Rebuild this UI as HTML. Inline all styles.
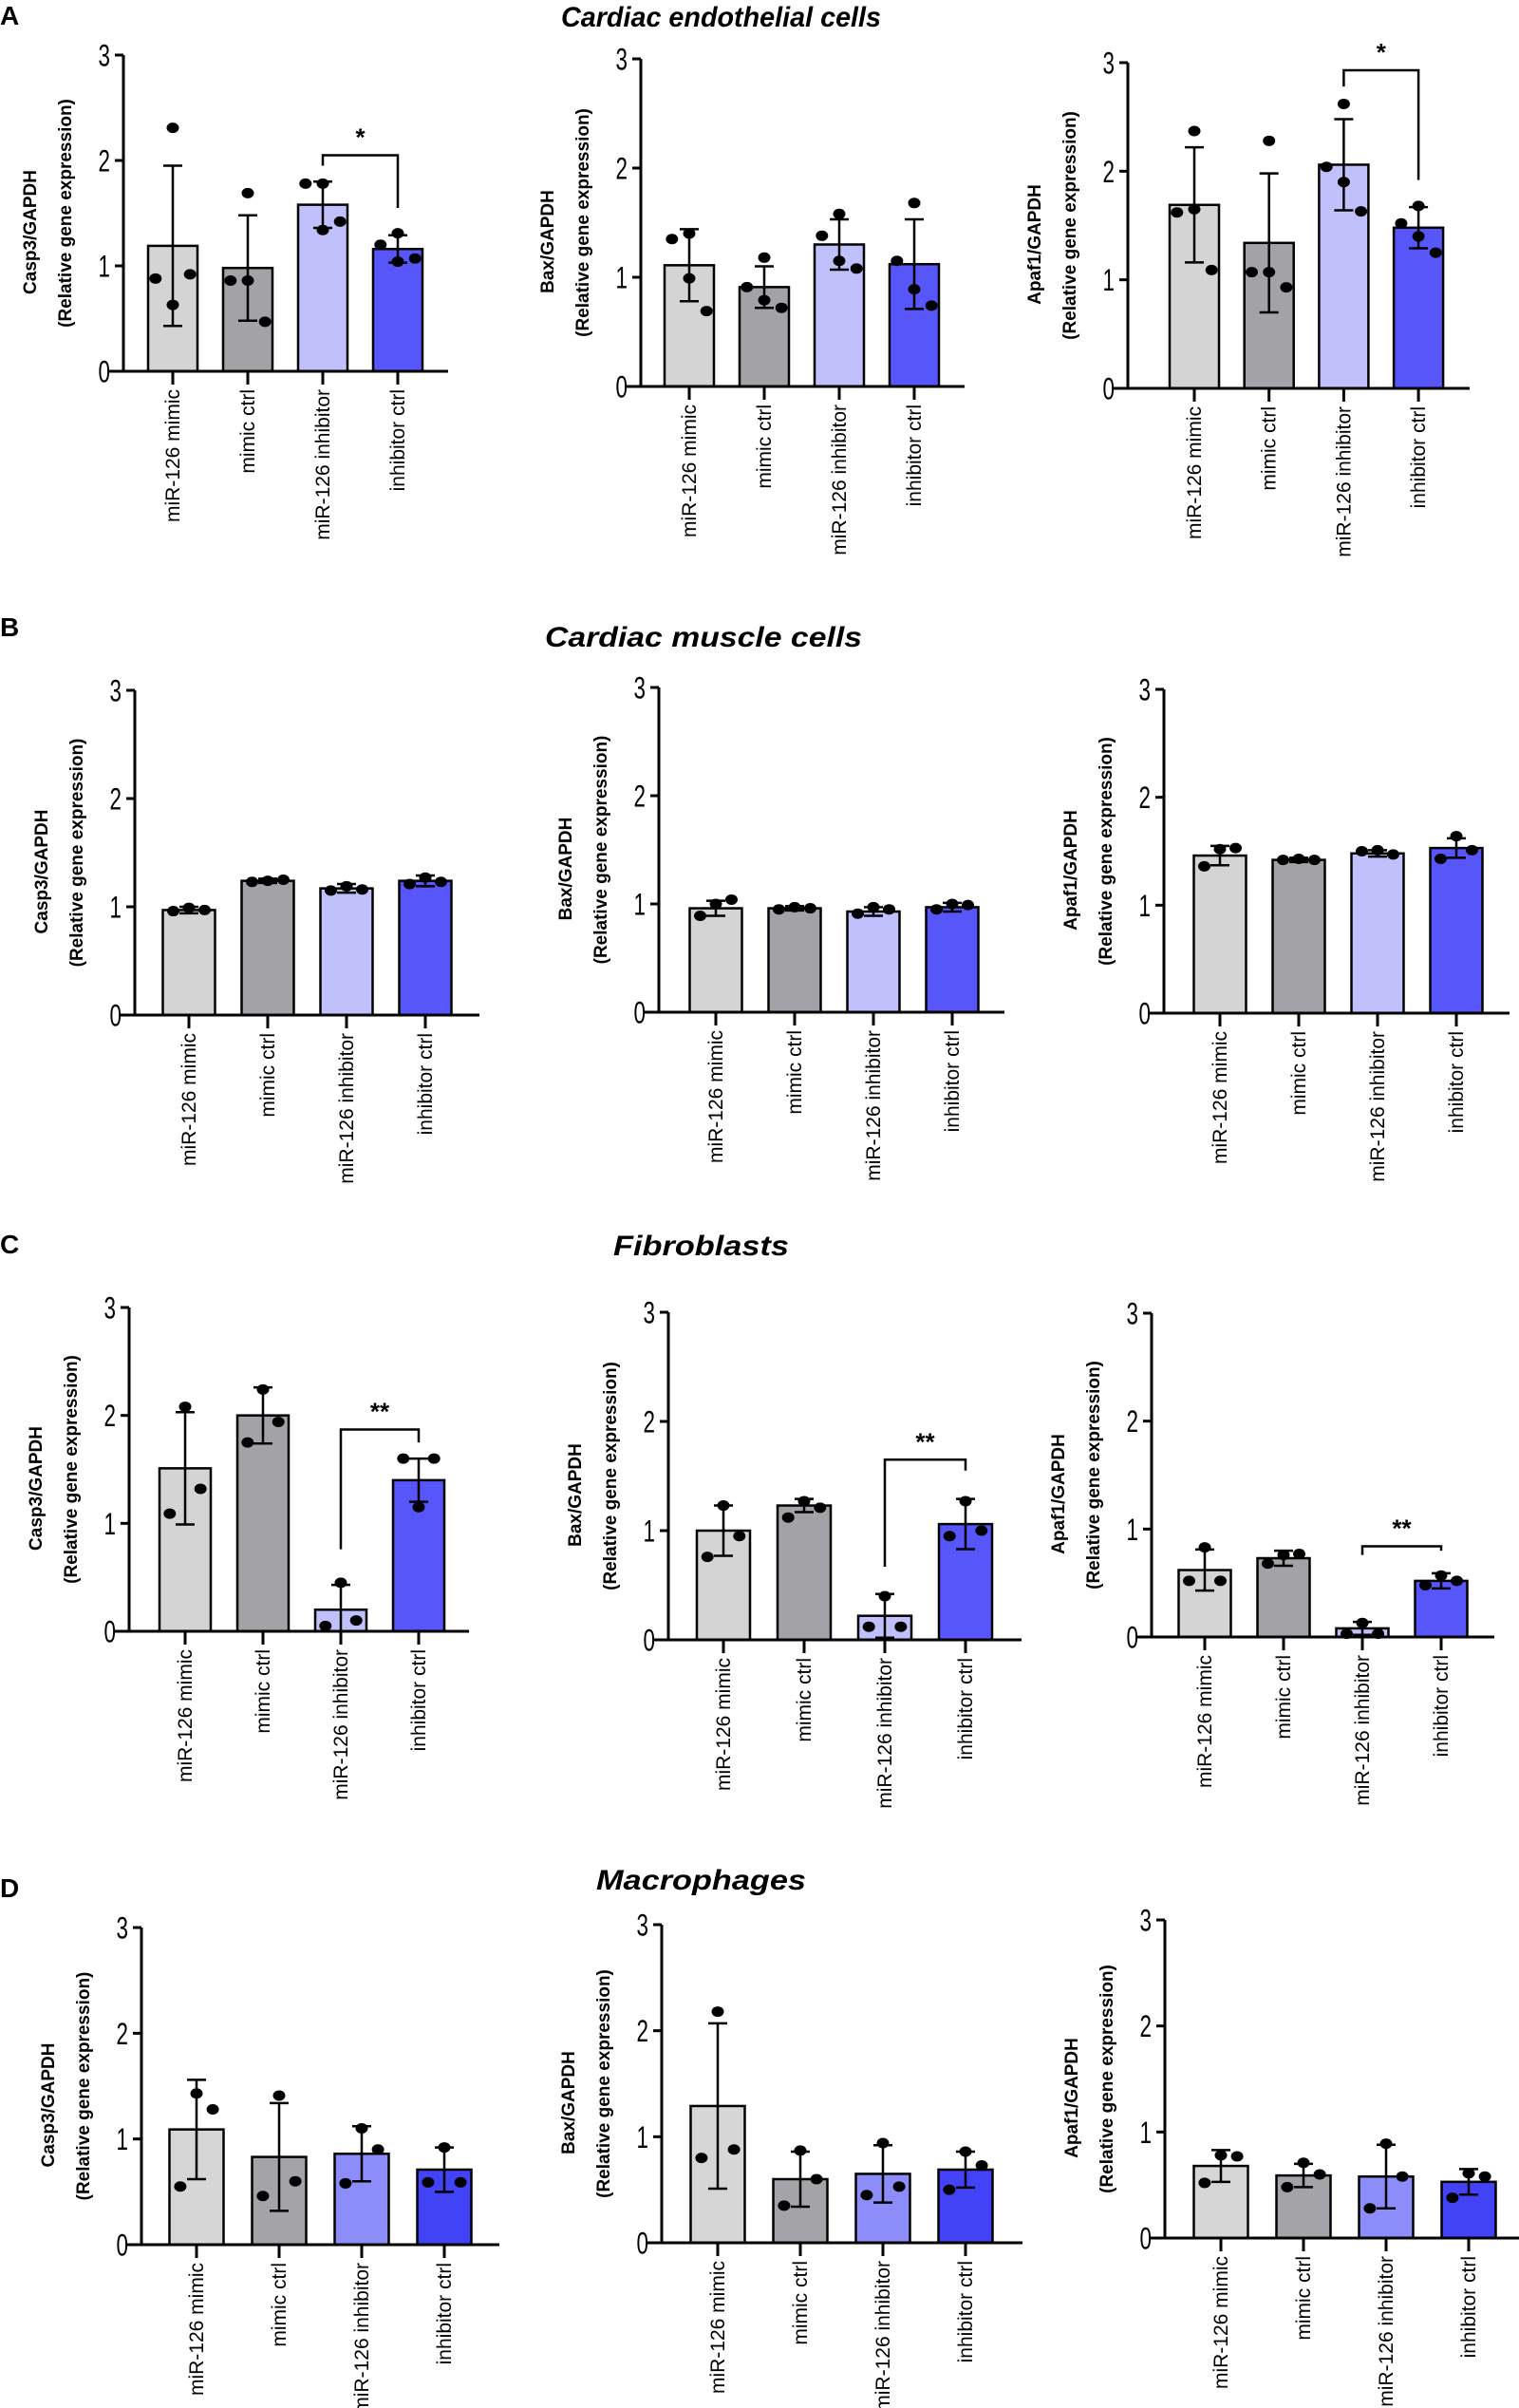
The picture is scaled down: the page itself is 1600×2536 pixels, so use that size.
<!DOCTYPE html>
<html><head><meta charset="utf-8"><style>
html,body{margin:0;padding:0;background:#fff;}
svg{display:block;font-family:"Liberation Sans",Arial,sans-serif;}
</style></head><body>
<svg id="fig" width="1600" height="2536" viewBox="0 0 1600 2536">
<g font-weight="bold" font-size="28" fill="#000">
<text x="0" y="26">A</text>
<text x="0" y="670">B</text>
<text x="0" y="1320">C</text>
<text x="0" y="1998">D</text>
</g>
<g font-weight="bold" font-style="italic" font-size="30" fill="#000">
<text x="591" y="28" textLength="337" lengthAdjust="spacingAndGlyphs">Cardiac endothelial cells</text>
<text x="574" y="681" textLength="334" lengthAdjust="spacingAndGlyphs">Cardiac muscle cells</text>
<text x="646" y="1322" textLength="185" lengthAdjust="spacingAndGlyphs">Fibroblasts</text>
<text x="628" y="1990" textLength="221" lengthAdjust="spacingAndGlyphs">Macrophages</text>
</g>
</svg>
<script>
const categories = ["miR-126 mimic","mimic ctrl","miR-126 inhibitor","inhibitor ctrl"];
const genes = ["Casp3","Bax","Apaf1"];
// means per chart (rows A1..D3)
const meansA1=[1.19,0.98,1.58,1.16], sdA1=[0.76,0.50,0.22,0.13];
const ptsA1=[[2.31,0.88,0.63,0.92],[1.69,0.86,0.86,0.47],[1.78,1.78,1.34,1.42],[1.31,1.20,1.04,1.07]];
const meansA2=[1.11,0.91,1.30,1.12], sdA2=[0.33,0.19,0.23,0.41];
const ptsA2=[[1.40,1.35,0.99,0.69],[1.18,0.91,0.79,0.72],[1.58,1.38,1.15,1.08],[1.68,1.15,0.89,0.74]];
const meansA3=[1.69,1.34,2.06,1.48], sdA3=[0.53,0.64,0.42,0.19];
const ptsA3=[[2.37,1.62,1.65,1.09],[2.28,1.07,1.07,0.93],[2.62,2.04,1.90,1.63],[1.68,1.52,1.40,1.25]];
const meansB1=[0.97,1.24,1.17,1.24], sdB1=[0.03,0.02,0.04,0.05];
const ptsB1=[[0.96,0.99,0.97],[1.23,1.24,1.25],[1.15,1.19,1.16],[1.21,1.27,1.23]];
const meansB2=[0.96,0.96,0.93,0.97], sdB2=[0.07,0.02,0.04,0.04];
const ptsB2=[[0.89,1.00,1.04],[0.95,0.97,0.96],[0.91,0.97,0.95],[0.95,1.00,0.99]];
const meansB3=[1.46,1.42,1.48,1.53], sdB3=[0.09,0.02,0.03,0.09];
const ptsB3=[[1.36,1.52,1.53],[1.42,1.43,1.42],[1.50,1.51,1.47],[1.43,1.64,1.51]];
const meansC1=[1.51,2.00,0.20,1.40], sdC1=[0.52,0.26,0.23,0.20];
const ptsC1=[[1.09,2.08,1.32],[1.75,2.24,1.94],[0.05,0.45,0.10],[1.60,1.15,1.60]];
const meansC2=[1.00,1.23,0.22,1.06], sdC2=[0.23,0.06,0.20,0.23];
const ptsC2=[[0.76,1.23,0.95],[1.12,1.27,1.21],[0.12,0.40,0.12],[0.95,1.27,1.00]];
const meansC3=[0.62,0.73,0.08,0.52], sdC3=[0.19,0.07,0.06,0.07];
const ptsC3=[[0.52,0.83,0.52],[0.68,0.76,0.77],[0.03,0.13,0.03],[0.48,0.57,0.52]];
const meansD1=[1.09,0.83,0.86,0.71], sdD1=[0.47,0.51,0.26,0.21];
const ptsD1=[[0.55,1.43,1.28],[0.46,1.41,0.60],[0.58,1.10,0.90],[0.59,0.92,0.59]];
const meansD2=[1.29,0.60,0.65,0.69], sdD2=[0.78,0.26,0.27,0.17];
const ptsD2=[[0.80,2.18,0.88],[0.35,0.87,0.60],[0.45,0.94,0.53],[0.50,0.86,0.73]];
const meansD3=[0.68,0.59,0.58,0.53], sdD3=[0.15,0.11,0.30,0.12];
const ptsD3=[[0.52,0.78,0.77],[0.48,0.71,0.60],[0.28,0.89,0.58],[0.38,0.61,0.58]];
// significance brackets: [top, leftLegEnd, rightLegEnd]
const sigA1=[2.05,1.95,1.55], sigA3=[2.93,2.78,1.92];
const sigC1=[1.87,0.76,1.75], sigC2=[1.65,0.67,1.55], sigC3=[0.84,0.76,0.80];
const sigLabels=["*","*","**","**","**"];
const yTicks=[0,1,2,3];

const colorsStd=["#d4d4d4","#a3a3a7","#c0c0fc","#5656fa"];
const colorsD=["#d6d6d6","#a4a4a8","#8c8cfa","#4242f6"];

const charts=[
 {id:"a-casp3",g:0,ax:130,y0:391,y3:58,c0:182,p:79,bw:52,end:472,m:meansA1,sd:sdA1,pts:ptsA1,sig:sigA1,sl:0,col:colorsStd},
 {id:"a-bax",g:1,ax:675,y0:407,y3:62,c0:726,p:79,bw:52,end:1016,m:meansA2,sd:sdA2,pts:ptsA2,col:colorsStd},
 {id:"a-apaf1",g:2,ax:1188,y0:409,y3:66,c0:1258,p:78.7,bw:52,end:1548,m:meansA3,sd:sdA3,pts:ptsA3,sig:sigA3,sl:1,col:colorsStd},
 {id:"b-casp3",g:0,ax:142,y0:1069,y3:727,c0:199,p:83,bw:55,end:505,m:meansB1,sd:sdB1,pts:ptsB1,col:colorsStd},
 {id:"b-bax",g:1,ax:694,y0:1066,y3:724,c0:754,p:83,bw:55,end:1058,m:meansB2,sd:sdB2,pts:ptsB2,col:colorsStd},
 {id:"b-apaf1",g:2,ax:1226,y0:1067,y3:726,c0:1285,p:83,bw:55,end:1590,m:meansB3,sd:sdB3,pts:ptsB3,col:colorsStd},
 {id:"c-casp3",g:0,ax:136,y0:1718,y3:1377,c0:195,p:82,bw:54,end:494,m:meansC1,sd:sdC1,pts:ptsC1,sig:sigC1,sl:2,col:colorsStd},
 {id:"c-bax",g:1,ax:704,y0:1727,y3:1382,c0:762,p:85,bw:56,end:1076,m:meansC2,sd:sdC2,pts:ptsC2,sig:sigC2,sl:3,col:colorsStd},
 {id:"c-apaf1",g:2,ax:1213,y0:1724,y3:1383,c0:1269,p:83,bw:55,end:1574,m:meansC3,sd:sdC3,pts:ptsC3,sig:sigC3,sl:4,col:colorsStd},
 {id:"d-casp3",g:0,ax:149,y0:2364,y3:2030,c0:207,p:87,bw:57,end:526,m:meansD1,sd:sdD1,pts:ptsD1,col:colorsD},
 {id:"d-bax",g:1,ax:697,y0:2362,y3:2027,c0:756,p:87,bw:57,end:1077,m:meansD2,sd:sdD2,pts:ptsD2,col:colorsD},
 {id:"d-apaf1",g:2,ax:1227,y0:2357,y3:2022,c0:1286,p:87,bw:57,end:1600,m:meansD3,sd:sdD3,pts:ptsD3,col:colorsD}
];
const NS="http://www.w3.org/2000/svg";
const svg=document.getElementById("fig");
function mk(tag,attrs,parent,txt){const e=document.createElementNS(NS,tag);for(const k in attrs)e.setAttribute(k,attrs[k]);if(txt!==undefined)e.textContent=txt;parent.appendChild(e);return e;}
const jit3=[-0.3,0,0.3], jit4=[0,-0.35,0,0.35];
charts.forEach(ch=>{
 const g=mk("g",{},svg);
 
 
 const y=v=>ch.y0-(ch.y0-ch.y3)*v/3;
 const xc=i=>ch.c0+ch.p*i;
 // bars
 ch.m.forEach((v,i)=>{
  const r=mk("rect",{x:xc(i)-ch.bw/2,y:y(v),width:ch.bw,height:ch.y0-y(v),fill:ch.col[i],stroke:"#000","stroke-width":2.5},g);
  
  
 });
 // error bars
 ch.m.forEach((v,i)=>{
  const hi=y(v+ch.sd[i]), lo=y(Math.max(0,v-ch.sd[i]));
  const e=mk("path",{d:`M${xc(i)},${hi}V${lo}M${xc(i)-10},${hi}H${xc(i)+10}M${xc(i)-10},${lo}H${xc(i)+10}`,stroke:"#000","stroke-width":2.5,fill:"none"},g);
  
  
 });
 // points
 ch.pts.forEach((arr,i)=>{
  const jit=arr.length===4?jit4:jit3;
  arr.forEach((v,k)=>{
   const c=mk("ellipse",{cx:xc(i)+jit[k]*ch.bw,cy:y(v),rx:6.5,ry:5.5,fill:"#000"},g);
   
   
  });
 });
 // axes
 const ax=mk("path",{d:`M${ch.ax},${ch.y3}V${ch.y0}M${ch.ax-16},${ch.y0}H${ch.end}`,stroke:"#000","stroke-width":3,fill:"none"},g);
 
 
 yTicks.forEach(t=>{
  const tk=mk("line",{x1:ch.ax-9,x2:ch.ax,y1:y(t),y2:y(t),stroke:"#000","stroke-width":3},g);
  
  
  const tl=mk("text",{x:ch.ax-14,y:y(t)+10,"text-anchor":"end","font-size":28,transform:`translate(${ch.ax-14},${y(t)}) scale(0.8,1.15) translate(${-(ch.ax-14)},${-y(t)})`},g,String(t));
  
  
 });
 categories.forEach((c,i)=>{
  const tk=mk("line",{x1:xc(i),x2:xc(i),y1:ch.y0,y2:ch.y0+14,stroke:"#000","stroke-width":3},g);
  
  
  const tl=mk("text",{x:0,y:0,"text-anchor":"end","font-size":21,transform:`translate(${xc(i)+7},${ch.y0+19}) rotate(-90)`},g,c);
  
  
 });
 // y title
 const midY=(ch.y0+ch.y3)/2;
 const t1=mk("text",{x:0,y:0,"text-anchor":"middle","font-size":19,"font-weight":"bold",transform:`translate(${ch.ax-92},${midY+20}) rotate(-90)`},g,genes[ch.g]+"/GAPDH");
 
 
 const t2=mk("text",{x:0,y:0,"text-anchor":"middle","font-size":19,"font-weight":"bold",transform:`translate(${ch.ax-55},${midY}) rotate(-90)`},g,"(Relative gene expression)");
 
 
 // significance
 if(ch.sig){
  const s=ch.sig, xl=xc(2), xr=xc(3);
  const b=mk("path",{d:`M${xl},${y(s[1])}V${y(s[0])}H${xr}V${y(s[2])}`,stroke:"#000","stroke-width":2.5,fill:"none"},g);
  
  
  const st=mk("text",{x:(xl+xr)/2,y:y(s[0])-10,"text-anchor":"middle","font-size":26,"font-weight":"bold"},g,sigLabels[ch.sl]);
  
  
 }
});
</script>
</body></html>
